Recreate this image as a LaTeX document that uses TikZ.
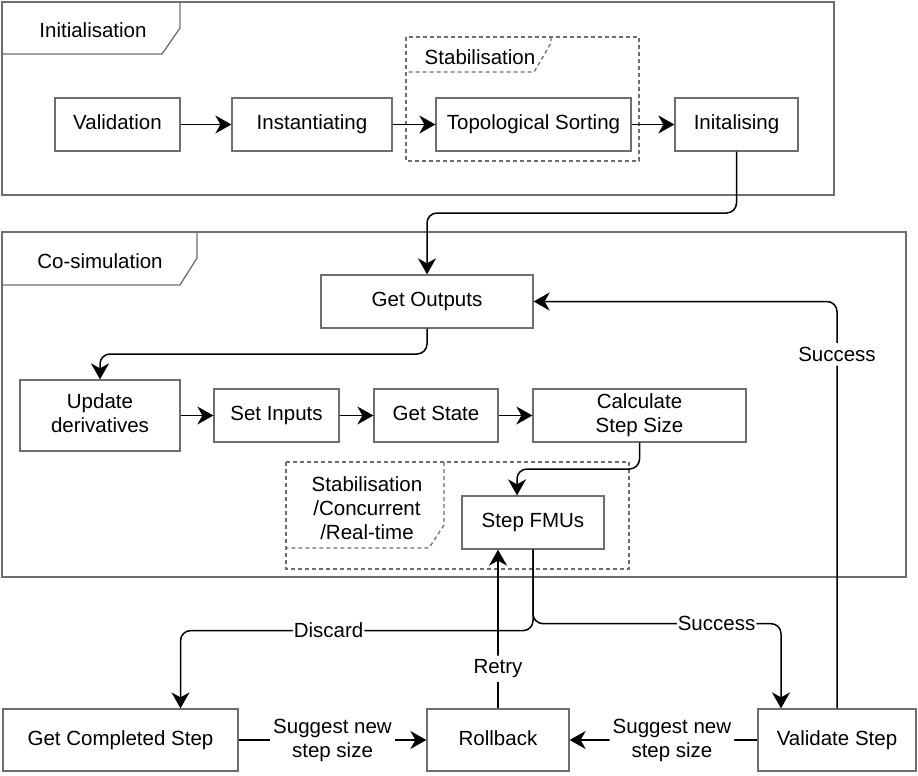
\documentclass[tikz,border=0pt]{standalone}
\usepackage{fontspec}
\setmainfont{Liberation Sans}
\usetikzlibrary{arrows.meta, calc, positioning}
\definecolor{rahmen}{HTML}{6E6E6E}

\begin{document}
\begin{tikzpicture}[
    x=1pt, y=-1pt,
    font=\fontsize{20.5}{24}\selectfont,
    box/.style={draw=rahmen, line width=1.3pt, inner sep=0pt, align=center, minimum height=53pt,
        execute at begin node=\vphantom{Ag}},
    tip/.tip={Stealth[length=16pt, width=18pt, inset=5pt]},
    conn/.style={-tip, line width=1.5pt, rounded corners=10pt},
    frame/.style={draw=rahmen, line width=1.3pt},
    dframe/.style={draw=rahmen, line width=1.3pt, dash pattern=on 4pt off 3pt},
    lbl/.style={fill=white, inner xsep=1pt, inner ysep=4pt, align=center}
]
\useasboundingbox (0,0) rectangle (918,776);

% Rahmen Initialisation
\draw[frame] (2,2) rectangle (834,195);
\draw[frame] (180,2) -- (180,28) -- (162,54) -- (2,54);
\node (tabinit) at (93,30) {Initialisation};

% Rahmen Stabilisation
\draw[dframe] (406,37) rectangle (639,161);
\draw[dframe] (551,37) -- (551,43) -- (534,72) -- (406,72);
\node (tabstab) at (480,57) {Stabilisation};

% Knoten Initialisation
\node[box, minimum width=125pt] (valid) at (117.5,124.5) {Validation};
\node[box, minimum width=160pt] (inst) at (312,124.5) {Instantiating};
\node[box, minimum width=195pt] (topo) at (533.5,124.5) {Topological Sorting};
\node[box, minimum width=123pt] (initg) at (736.5,124.5) {Initalising};

\draw[conn] (valid.east) -- (inst.west);
\draw[conn] (inst.east) -- (topo.west);
\draw[conn] (topo.east) -- (initg.west);

% Rahmen Co-simulation
\draw[frame] (2,232) rectangle (906,577);
\draw[frame] (197,232) -- (197,258) -- (180,285) -- (2,285);
\node (tabcosim) at (100,261) {Co-simulation};

% Rahmen Stabilisation/Concurrent/Real-time
\draw[dframe] (286,462) rectangle (629,569);
\draw[dframe] (444,462) -- (444,525) -- (429,548) -- (286,548);
\node[align=center] (tabrt) at (367,508) {Stabilisation\\/Concurrent\\/Real-time};

% Knoten Co-simulation
\node[box, minimum width=212pt] (getout) at (427,301.5) {Get Outputs};
\node[box, minimum width=160pt, minimum height=71pt] (upd) at (100,415.5) {Update\\derivatives};
\node[box, minimum width=125pt] (setin) at (276.5,415.5) {Set Inputs};
\node[box, minimum width=124pt] (getst) at (436,415.5) {Get State};
\node[box, minimum width=213pt] (calc) at (639.5,415.5) {Calculate\\Step Size};
\node[box, minimum width=142pt] (stepfmu) at (533,522.5) {Step FMUs};

% Knoten unten
\node[box, minimum width=235pt, minimum height=62pt] (getcomp) at (120.5,740) {Get Completed Step};
\node[box, minimum width=142pt, minimum height=62pt] (rollback) at (498,740) {Rollback};
\node[box, minimum width=158pt, minimum height=62pt] (valstep) at (837,740) {Validate Step};

\coordinate (stepin) at ([xshift=-16pt]stepfmu.north);
\coordinate (discin) at ([xshift=60pt]getcomp.north);
\coordinate (succin) at ([xshift=-56pt]valstep.north);

% Verbindungen
\draw[conn] (initg.south) |- ($(initg.south)!0.5!(getout.north)$) -| (getout.north);
\draw[conn] (getout.south) |- ($(getout.south)!0.5!(upd.north)$) -| (upd.north);
\draw[conn] (upd.east) -- (setin.west);
\draw[conn] (setin.east) -- (getst.west);
\draw[conn] (getst.east) -- (calc.west);
\draw[conn] (calc.south) |- ($(calc.south)!0.5!(stepin)$) -| (stepin);

\draw[conn] (stepfmu.south) -- ++(0,81) -| (discin) node[lbl, inner ysep=1pt, pos=0.29] {Discard};
\draw[conn] (stepfmu.south) -- ++(0,74) -| (succin) node[lbl, inner ysep=1pt, pos=0.37] {Success};
\draw[conn] (rollback.north) -- (rollback.north |- stepfmu.south) node[lbl, pos=0.25] {Retry};
\draw[conn] (valstep.north) |- (getout.east) node[lbl, pos=0.435] {Success};

\draw[conn] (getcomp.east) -- (rollback.west) node[lbl, inner xsep=3pt, inner ysep=1pt, midway] {Suggest new\\step size};
\draw[conn] (valstep.west) -- (rollback.east) node[lbl, inner xsep=3pt, inner ysep=1pt, pos=0.455] {Suggest new\\step size};

\end{tikzpicture}
\end{document}
